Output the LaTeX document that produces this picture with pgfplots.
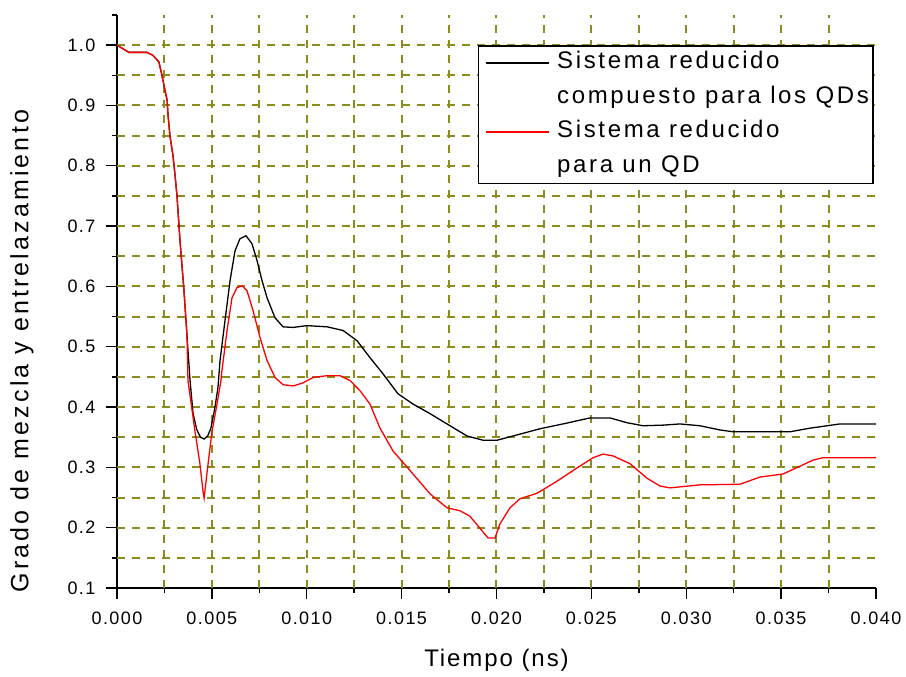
\documentclass[border=0pt]{standalone}
\usepackage{pgfplots}
\pgfplotsset{compat=1.18}
\usepackage{fontspec}
\setmainfont{Liberation Sans}[LetterSpace=8]
\newfontfamily\ylabelfont{Liberation Sans}[LetterSpace=12.5]
\newfontfamily\legendfont{Liberation Sans}[LetterSpace=11]

\definecolor{gridolive}{RGB}{140,140,30}
\tikzset{olivegrid/.style={draw=gridolive, line width=2pt, dash pattern=on 8pt off 7pt}}

\begin{document}
\begin{tikzpicture}
\path[use as bounding box] (-117pt,-89pt) rectangle (789pt,588pt);
\begin{axis}[
  scale only axis, width=759pt, height=573pt,
  xmin=0, xmax=0.04, ymin=0.1, ymax=1.05,
  axis x line=bottom, axis y line=left,
  axis line style={-, line width=1.6pt},
  xtick={0,0.005,0.01,0.015,0.02,0.025,0.03,0.035,0.04},
  ytick={0.1,0.2,0.3,0.4,0.5,0.6,0.7,0.8,0.9,1.0},
  minor xtick={0.0025,0.0075,0.0125,0.0175,0.0225,0.0275,0.0325,0.0375},
  minor ytick={0.15,0.25,0.35,0.45,0.55,0.65,0.75,0.85,0.95,1.05},
  tick align=outside,
  major tick length=11pt, minor tick length=5pt,
  every tick/.style={black, line width=1.4pt},
  scaled x ticks=false,
  /pgf/number format/assume math mode=true,
  xticklabel={\pgfmathprintnumber[fixed, fixed zerofill, precision=3]{\tick}},
  yticklabel={\pgfmathprintnumber[fixed, fixed zerofill, precision=1]{\tick}},
  ticklabel style={font=\fontsize{18}{20}\selectfont},
  xticklabel style={yshift=-9pt},
  yticklabel style={xshift=-7pt},
  every axis x label/.style={at={(axis description cs:0.5,-0.1257)}, anchor=center, font=\fontsize{24}{28}\selectfont},
  every axis y label/.style={at={(axis description cs:-0.1252,0.4136)}, rotate=90, anchor=center, font=\fontsize{25}{28}\ylabelfont},
  xlabel={Tiempo (ns)},
  ylabel={Grado de mezcla y entrelazamiento},
  legend cell align=left,
  legend image code/.code={\path (0pt,0pt); \draw[#1] (3pt,0pt) -- (66pt,0pt);},
  legend style={at={(axis description cs:0.4756,0.9476)}, anchor=north west,
    fill=white, line width=1.5pt,
    inner xsep=4pt, inner ysep=6pt, row sep=12.5pt, column sep=7pt,
    nodes={inner sep=0pt, text height=17pt, text depth=5pt, font=\fontsize{24}{28}\legendfont}},
]
% dashed background grid at every major and minor tick
\pgfplotsinvokeforeach{0.0025,0.005,0.0075,0.01,0.0125,0.015,0.0175,0.02,0.0225,0.025,0.0275,0.03,0.0325,0.035,0.0375}{
  \draw[olivegrid] (axis cs:#1,0.1) -- (axis cs:#1,1.05);
}
\pgfplotsinvokeforeach{0.15,0.2,0.25,0.3,0.35,0.4,0.45,0.5,0.55,0.6,0.65,0.7,0.75,0.8,0.85,0.9,0.95,1.0}{
  \draw[olivegrid] (axis cs:0,#1) -- (axis cs:0.04,#1);
}
% Sistema reducido compuesto para los QDs
\addplot[black, line width=1.3pt, forget plot] coordinates {
(0,1.000) (0.00063,0.988) (0.00158,0.988) (0.00190,0.983) (0.00221,0.972)
(0.00237,0.950) (0.00253,0.925) (0.00264,0.909) (0.00269,0.884) (0.00279,0.850)
(0.00295,0.817) (0.00306,0.784) (0.00316,0.751) (0.00332,0.676) (0.00353,0.593)
(0.00369,0.518) (0.00385,0.444) (0.00401,0.389) (0.00420,0.363) (0.00440,0.350)
(0.00459,0.347) (0.00478,0.352) (0.00495,0.365) (0.00516,0.399) (0.00532,0.432)
(0.00543,0.477) (0.00569,0.543)
(0.00596,0.610) (0.00622,0.659) (0.00648,0.679) (0.00680,0.684) (0.00711,0.671)
(0.00738,0.643) (0.00764,0.610) (0.00791,0.581) (0.00833,0.548) (0.00875,0.533)
(0.00928,0.532) (0.01001,0.535) (0.01107,0.533) (0.01191,0.527) (0.01265,0.510)
(0.01333,0.482) (0.01402,0.455) (0.01481,0.422) (0.01560,0.405) (0.01650,0.389)
(0.01755,0.369) (0.01845,0.352) (0.01929,0.345) (0.02003,0.345) (0.02087,0.352)
(0.02229,0.364) (0.02350,0.372) (0.02493,0.382) (0.02598,0.382) (0.02688,0.374)
(0.02772,0.369) (0.02877,0.370) (0.02967,0.372) (0.03072,0.369) (0.03178,0.362)
(0.03246,0.359) (0.03547,0.359) (0.03652,0.365) (0.03742,0.369) (0.03810,0.372)
(0.04000,0.372)
};
% Sistema reducido para un QD
\addplot[red, line width=1.3pt, forget plot] coordinates {
(0,1.000) (0.00063,0.988) (0.00158,0.988) (0.00190,0.983) (0.00221,0.972)
(0.00237,0.950) (0.00253,0.925) (0.00264,0.909) (0.00269,0.884) (0.00279,0.850)
(0.00295,0.817) (0.00306,0.784) (0.00316,0.751) (0.00332,0.676) (0.00353,0.593)
(0.00369,0.518) (0.00374,0.444) (0.00411,0.360) (0.00437,0.306) (0.00453,0.261)
(0.00459,0.249) (0.00480,0.306) (0.00501,0.360) (0.00527,0.405) (0.00548,0.444)
(0.00553,0.460) (0.00580,0.527) (0.00606,0.581) (0.00632,0.598) (0.00659,0.601)
(0.00685,0.593) (0.00717,0.560) (0.00754,0.515) (0.00791,0.477) (0.00833,0.449)
(0.00875,0.437) (0.00928,0.435) (0.00980,0.440) (0.01033,0.449) (0.01107,0.452)
(0.01175,0.452) (0.01228,0.444) (0.01281,0.427) (0.01333,0.405) (0.01386,0.365)
(0.01455,0.327) (0.01560,0.289) (0.01650,0.256) (0.01739,0.233) (0.01808,0.228)
(0.01860,0.219) (0.01913,0.199) (0.01955,0.183) (0.01992,0.183) (0.02018,0.206)
(0.02071,0.233) (0.02124,0.248) (0.02213,0.257) (0.02319,0.277) (0.02424,0.299)
(0.02509,0.316) (0.02561,0.322) (0.02614,0.319) (0.02704,0.306) (0.02793,0.282)
(0.02862,0.269) (0.02914,0.266) (0.03072,0.271) (0.03283,0.272) (0.03389,0.284)
(0.03510,0.289) (0.03600,0.302) (0.03668,0.312) (0.03721,0.316) (0.04000,0.316)
};
\addlegendimage{draw=black, line width=1.5pt}
\addlegendentry{Sistema reducido}
\addlegendimage{empty legend}
\addlegendentry{compuesto para los QDs}
\addlegendimage{draw=red, line width=1.5pt}
\addlegendentry{Sistema reducido}
\addlegendimage{empty legend}
\addlegendentry{para un QD}
\end{axis}
\end{tikzpicture}
\end{document}
